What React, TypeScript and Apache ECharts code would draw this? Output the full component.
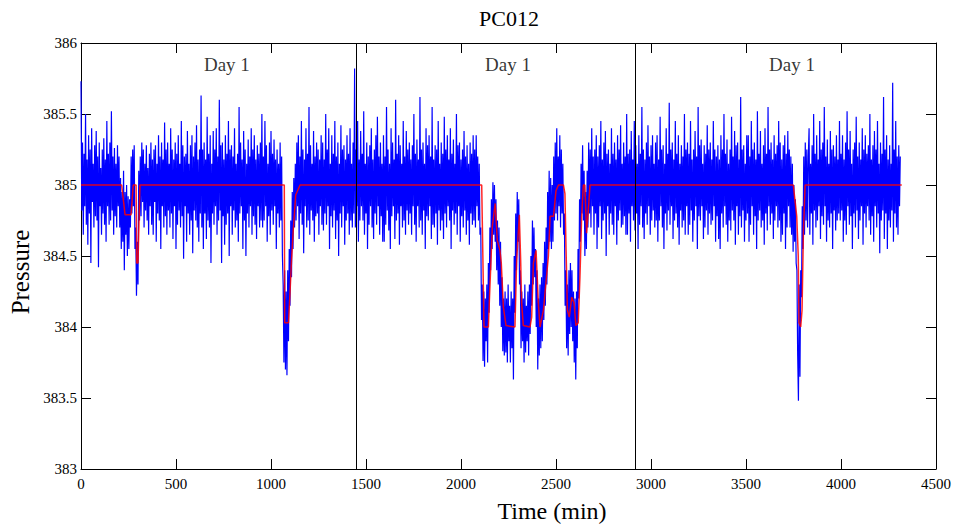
import React, { useEffect, useRef } from "react";
import * as echarts from "echarts";

// Blue trace: sampled every SAMPLE_STEP_MIN minutes, values in hundredths above/below 385
const SAMPLE_STEP_MIN = 4;
const BASE_PRESSURE = 385;
const blueOffsets = [
  73,-18,30,-35,22,-15,50,-28,18,-42,35,-20,25,-55,40,-12,15,-30,28,-22,38,-25,20,-58,30,-15,12,-35,25,-20,33,-28,18,-40,45,-15,22,-28,
  30,-25,52,-18,20,-35,26,-22,15,-30,28,-15,20,-30,5,-45,-5,-40,10,-60,-5,-35,0,-50,-8,-45,-10,-30,20,-20,25,-15,28,-45,-30,-78,-40,-70,10,-25,
  20,-22,30,-12,25,-30,15,-18,28,-25,12,-35,22,-15,30,-28,18,-35,25,-12,28,-40,15,-20,35,-25,20,-45,30,-15,18,-30,44,-22,25,-35,30,-18,15,-30,
  40,-20,25,-38,18,-15,30,-45,22,-28,35,-18,15,-30,45,-22,28,-52,20,-15,22,-40,38,-20,15,-35,28,-25,35,-48,20,-18,30,-25,42,-30,18,-40,25,-20,
  63,-30,25,-45,30,-20,18,-38,48,-25,22,-30,35,-55,15,-20,38,-28,25,-15,40,-35,20,-25,60,-18,28,-55,30,-22,18,-42,35,-28,22,-20,45,-50,25,-15,
  28,-35,20,-18,40,-30,15,-25,22,-40,55,-20,30,-15,18,-45,38,-25,25,-50,15,-20,32,-30,20,-15,40,-35,25,-22,35,-28,18,-38,28,-15,22,-30,30,-25,
  50,-30,20,-25,45,-15,28,-40,15,-22,30,-35,38,-18,22,-28,32,-15,18,-45,25,-20,15,-30,30,-25,20,-50,-70,-125,-60,-130,-75,-134,-60,-110,-45,-85,-25,-65,
  -5,-45,5,-30,15,-25,30,-15,35,-38,20,-20,45,-28,25,-48,18,-15,40,-30,22,-25,55,-35,28,-18,15,-25,38,-40,20,-22,30,-20,25,-35,18,-15,35,-28,
  30,-32,18,-20,50,-28,25,-15,40,-45,15,-22,35,-30,22,-18,45,-38,20,-25,30,-50,15,-20,42,-30,25,-15,28,-42,18,-25,35,-20,22,-35,40,-25,15,-30,
  30,-20,82,-30,25,-15,45,-40,18,-25,38,-15,22,-25,52,-35,15,-20,30,-45,20,-28,28,-15,40,-30,18,-38,25,-20,35,-28,48,-15,20,-35,30,-22,15,-40,
  35,-40,20,-28,55,-18,25,-32,15,-45,40,-22,30,-15,18,-38,60,-25,22,-20,35,-42,28,-15,15,-30,45,-25,20,-35,38,-18,25,-28,30,-20,18,-35,28,-15,
  50,-28,22,-40,32,-15,18,-30,62,-25,25,-35,30,-18,15,-45,40,-22,28,-25,35,-15,20,-38,55,-28,18,-30,28,-20,25,-42,45,-18,15,-32,30,-25,22,-38,
  48,-20,25,-30,35,-15,18,-25,40,-45,22,-18,32,-28,15,-20,50,-35,28,-15,30,-40,18,-22,25,-30,38,-18,20,-35,28,-25,15,-42,30,-20,22,-28,35,-25,
  25,-30,35,-15,20,-25,15,-35,-30,-95,-70,-124,-75,-128,-80,-110,-70,-125,-55,-90,-30,-60,-10,-45,2,-35,0,-40,-10,-60,-25,-70,-30,-85,-40,-100,-65,-117,-80,-120,
  -75,-118,-80,-125,-70,-110,-85,-125,-75,-115,-80,-137,-50,-90,-20,-60,-5,-40,-10,-70,-60,-115,-75,-110,-80,-125,-70,-118,-85,-110,-75,-120,-70,-105,-50,-85,-25,-70,-30,-65,
  -45,-100,-60,-130,-80,-120,-70,-115,-65,-110,-55,-95,-40,-85,-30,-70,-5,-45,10,-40,5,-45,0,-40,20,-25,30,-20,40,-25,20,-15,35,-30,25,-20,15,-35,-20,-85,
  -60,-115,-70,-120,-60,-105,-55,-100,-60,-110,-75,-125,-80,-137,-75,-115,-45,-80,-10,-40,15,-20,28,-25,10,-50,-5,-45,10,-30,30,-20,25,-30,40,-15,20,-35,25,-20,
  35,-45,20,-30,28,-15,45,-38,18,-25,30,-20,38,-50,22,-15,25,-35,15,-20,40,-28,22,-35,30,-15,18,-42,35,-25,25,-18,42,-30,15,-28,30,-22,20,-35,
  50,-35,22,-20,25,-40,38,-15,18,-25,45,-32,28,-20,15,-45,35,-28,22,-15,55,-30,25,-38,18,-20,30,-28,42,-15,20,-35,28,-25,35,-18,15,-30,30,-25,
  35,-40,18,-25,48,-15,25,-30,28,-45,15,-20,40,-32,22,-18,58,-28,25,-15,30,-38,18,-25,45,-20,22,-30,35,-42,15,-18,28,-30,20,-25,50,-35,25,-15,
  30,-35,22,-28,45,-18,18,-40,25,-25,38,-15,20,-45,55,-22,28,-25,32,-15,15,-38,28,-30,22,-18,42,-35,25,-20,30,-28,18,-25,45,-15,25,-40,20,-22,
  28,-38,18,-45,35,-20,25,-30,50,-15,22,-28,32,-40,15,-25,25,-32,48,-18,20,-25,38,-42,28,-15,30,-35,18,-22,62,-30,25,-18,28,-40,15,-25,35,-20,
  35,-40,20,-28,45,-15,25,-35,30,-22,18,-45,52,-25,22,-18,38,-30,15,-25,28,-42,40,-20,22,-32,55,-15,25,-28,30,-20,18,-38,35,-25,22,-15,28,-30,
  45,-25,30,-40,18,-35,28,-20,35,-45,22,-30,38,-15,25,-30,20,-35,15,-47,0,-40,-10,-55,-60,-120,-152,-70,-135,-60,-79,-15,-45,20,-35,30,-25,25,-30,20,
  40,-35,15,-20,28,-42,50,-18,22,-30,35,-25,18,-15,45,-38,25,-22,30,-28,55,-15,20,-40,32,-25,15,-30,38,-20,25,-45,28,-18,20,-32,35,-25,18,-20,
  45,-25,22,-18,35,-40,18,-25,30,-35,52,-15,25,-28,38,-22,15,-45,25,-20,30,-30,48,-18,20,-38,30,-25,18,-15,40,-42,25,-20,35,-30,22,-15,28,-25,
  50,-35,18,-22,28,-40,38,-15,25,-30,45,-20,15,-48,30,-25,22,-18,62,-38,25,-20,35,-45,18,-25,28,-30,15,-18,72,-40,25,-20,45,-30,20,-35,28,-15,
  20,
];

// Red (filtered) trace
const redTimes = [
  0, 214, 232, 263, 275, 290, 293, 300, 310,
  1070, 1072, 1092, 1100, 1108, 1117, 1130, 1153,
  2109, 2121, 2144, 2150, 2165, 2180, 2191, 2205, 2212, 2223,
  2237, 2284, 2293, 2307, 2314, 2319, 2328, 2363, 2372, 2381,
  2395, 2407, 2416, 2434, 2460, 2469, 2487, 2500, 2513, 2539,
  2547, 2553, 2560, 2570, 2583, 2595, 2605, 2617, 2626, 2635,
  2644, 2652, 2661, 2670, 2679,
  3749, 3758, 3767, 3775, 3779, 3788, 3795, 3802, 3811, 4320,
];
const redValues = [
  385, 385, 384.79, 384.79, 385, 385, 384.45, 384.45, 385,
  385, 384.03, 384.03, 384.24, 384.47, 384.68, 384.93, 385,
  385, 384.0, 384.0, 384.21, 384.71, 384.87, 384.61, 384.54, 384.45, 384.14,
  384.01, 384.0, 384.47, 384.79, 384.47, 384.17, 384.01, 384.0, 384.07, 384.45,
  384.54, 384.17, 384.0, 384.12, 384.5, 384.78, 384.78, 384.96, 385, 385,
  384.94, 384.54, 384.12, 384.07, 384.21, 384.17, 384.01, 384.03, 384.35, 384.78,
  385, 385, 384.66, 384.82, 385,
  385, 384.89, 384.78, 384.5, 384.03, 384.0, 384.12, 384.66, 385, 385,
];

const dayBoundaries = [1447, 2919];
const dayLabels = ["Day 1", "Day 1", "Day 1"];
const dayLabelTimes = [768, 2247, 3742];
const dayLabelLevel = 385.85;

const X_MIN = 0;
const X_MAX = 4500;
const X_INTERVAL = 500;
const Y_MIN = 383;
const Y_MAX = 386;
const Y_INTERVAL = 0.5;

const SERIF = "'Liberation Serif', 'Times New Roman', serif";

export default function App() {
  const ref = useRef<HTMLDivElement>(null);

  useEffect(() => {
    if (!ref.current) return;
    const chart = echarts.init(ref.current, null, { renderer: "svg" });

    const blueData = blueOffsets.map((d, i) => [i * SAMPLE_STEP_MIN, BASE_PRESSURE + d / 100]);
    const redData = redTimes.map((t, i) => [t, redValues[i]]);

    const lineStyle = { color: "#000", width: 1 };
    const tick = { show: true, inside: true, length: 10, lineStyle: { color: "#000", width: 1 } };
    const label = { color: "#000", fontFamily: SERIF, fontSize: 15 };

    chart.setOption({
      animation: false,
      backgroundColor: "#fff",
      title: {
        text: "PC012",
        left: 509,
        top: 7,
        padding: 0,
        textAlign: "center",
        textStyle: { color: "#000", fontFamily: SERIF, fontSize: 22, fontWeight: "normal" },
      },
      grid: { left: 81, right: 20, top: 43, bottom: 56, containLabel: false },
      xAxis: [
        {
          type: "value",
          min: X_MIN,
          max: X_MAX,
          interval: X_INTERVAL,
          position: "bottom",
          axisLine: { show: true, onZero: false, lineStyle },
          axisTick: tick,
          axisLabel: { ...label, margin: 7, formatter: (v: number) => String(v) },
          splitLine: { show: false },
        },
        {
          type: "value",
          min: X_MIN,
          max: X_MAX,
          interval: X_INTERVAL,
          position: "top",
          axisLine: { show: true, onZero: false, lineStyle },
          axisTick: tick,
          axisLabel: { show: false },
          splitLine: { show: false },
        },
      ],
      yAxis: [
        {
          type: "value",
          min: Y_MIN,
          max: Y_MAX,
          interval: Y_INTERVAL,
          position: "left",
          axisLine: { show: true, onZero: false, lineStyle },
          axisTick: tick,
          axisLabel: { ...label, margin: 4, formatter: (v: number) => String(v) },
          splitLine: { show: false },
        },
        {
          type: "value",
          min: Y_MIN,
          max: Y_MAX,
          interval: Y_INTERVAL,
          position: "right",
          axisLine: { show: true, onZero: false, lineStyle },
          axisTick: tick,
          axisLabel: { show: false },
          splitLine: { show: false },
        },
      ],
      series: [
        {
          type: "line",
          data: blueData,
          showSymbol: false,
          symbol: "none",
          lineStyle: { color: "#0000ff", width: 1.2 },
          z: 2,
          silent: true,
        },
        {
          type: "line",
          data: redData,
          showSymbol: false,
          symbol: "none",
          lineStyle: { color: "rgba(255,0,0,0.85)", width: 1.5 },
          z: 3,
          silent: true,
          markLine: {
            silent: true,
            symbol: "none",
            label: { show: false },
            lineStyle: { color: "#000", width: 1, type: "solid" },
            data: dayBoundaries.map((t) => ({ xAxis: t })),
          },
        },
        {
          type: "scatter",
          data: dayLabelTimes.map((t, i) => ({ value: [t, dayLabelLevel], name: dayLabels[i] })),
          symbolSize: 1,
          itemStyle: { color: "rgba(0,0,0,0)" },
          silent: true,
          label: {
            show: true,
            position: "inside",
            formatter: (p: any) => p.name,
            color: "#000",
            fontFamily: SERIF,
            fontSize: 19,
          },
          z: 4,
        },
      ],
      graphic: [
        {
          type: "text",
          x: 552,
          y: 511,
          style: {
            text: "Time (min)",
            fill: "#000",
            font: `24px ${SERIF}`,
            textAlign: "center",
            textVerticalAlign: "middle",
          },
        },
        {
          type: "text",
          x: 20,
          y: 272,
          rotation: Math.PI / 2,
          style: {
            text: "Pressure",
            fill: "#000",
            font: `25px ${SERIF}`,
            textAlign: "center",
            textVerticalAlign: "middle",
          },
        },
      ],
    });

    return () => chart.dispose();
  }, []);

  return <div ref={ref} style={{ position: "fixed", left: 0, top: 0, width: 956, height: 525 }} />;
}
